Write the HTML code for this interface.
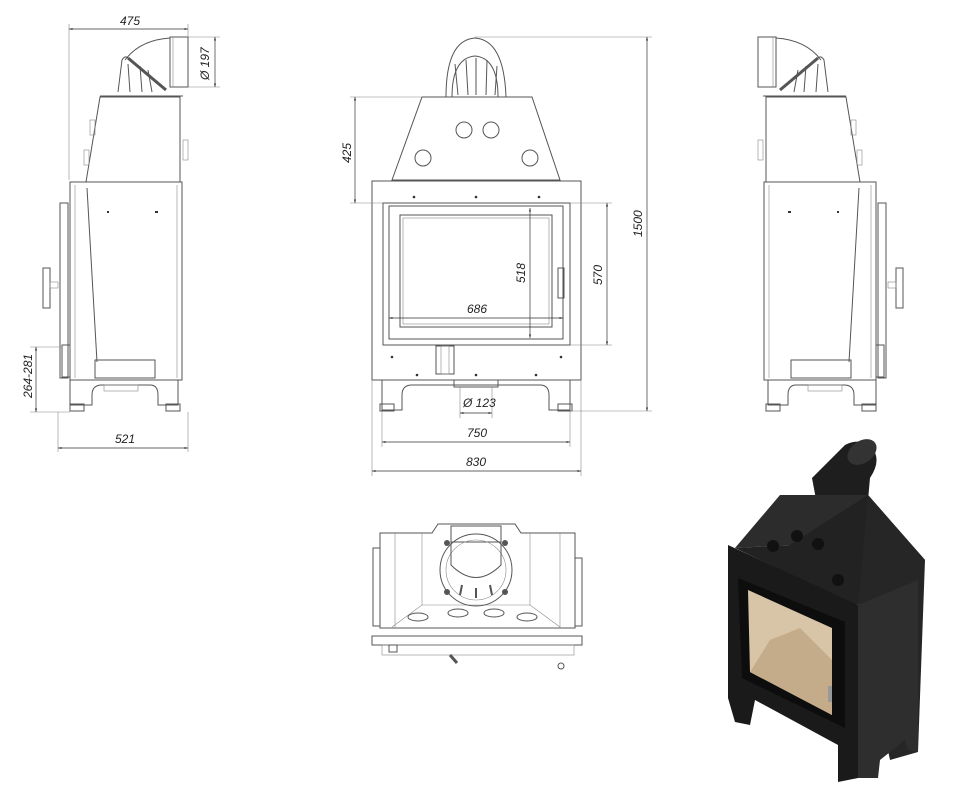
<!DOCTYPE html>
<html><head><meta charset="utf-8"><style>
html,body{margin:0;padding:0;background:#fff;}
svg{display:block;}
text{font-family:"Liberation Sans",sans-serif;font-style:italic;font-size:12px;fill:#222;}
.l{fill:none;stroke:#555;stroke-width:1;}
.t{fill:none;stroke:#888;stroke-width:0.6;}
.d{stroke:#333;stroke-width:0.7;fill:none;}
</style></head><body>
<svg width="966" height="804" viewBox="0 0 966 804" xmlns="http://www.w3.org/2000/svg">
<defs>
<marker id="a" viewBox="0 0 10 10" refX="10" refY="5" markerWidth="7" markerHeight="5" orient="auto-start-reverse"><path d="M0,2 L10,5 L0,8z" fill="#333"/></marker>
<g id="side">
  <rect x="170" y="37" width="18" height="50" class="l"/>
  <line x1="173" y1="37" x2="173" y2="87" class="t"/>
  <path d="M170,38 Q140,40 125,60" class="l"/>
  <path d="M118,92 L122,60 Q125,55 128,58 M130,92 L128,64 M142,92 L140,66 M152,92 L148,70" class="l"/>
  <path d="M128,58 L166,90" stroke="#555" stroke-width="3" fill="none"/>
  <path d="M100,97 L180,97 L180,182 L86,182 Z" class="l"/>
  <line x1="100" y1="96" x2="183" y2="96" class="l"/>
  <rect x="90" y="120" width="5" height="15" class="t"/>
  <rect x="84" y="150" width="5" height="15" class="t"/>
  <rect x="183" y="140" width="5" height="20" class="t"/>
  <rect x="70" y="182" width="112" height="198" class="l"/>
  <line x1="75" y1="185" x2="75" y2="378" class="t"/>
  <line x1="177" y1="185" x2="177" y2="378" class="t"/>
  <path d="M87,188 L97,362" class="l"/>
  <rect x="95" y="360" width="60" height="18" class="l"/>
  <rect x="60" y="203" width="8" height="175" class="l"/>
  <rect x="43" y="268" width="7" height="40" class="l"/>
  <rect x="50" y="282" width="8" height="6" class="t"/>
  <rect x="62" y="345" width="8" height="32" class="l"/>
  <line x1="107" y1="212" x2="109" y2="212" stroke="#333" stroke-width="2"/>
  <line x1="155" y1="212" x2="158" y2="212" stroke="#333" stroke-width="2"/>
  <path d="M70,380 L70,405 L92,405 L92,395 Q92,385 102,385 L150,385 Q158,385 158,395 L158,405 L178,405 L178,380" class="l"/>
  <rect x="104" y="385" width="34" height="6" class="t"/>
  <rect x="70" y="404" width="14" height="7" class="l"/>
  <rect x="166" y="404" width="14" height="7" class="l"/>
</g>
</defs>

<use href="#side"/>
<line x1="69" y1="24" x2="69" y2="180" class="t"/>
<line x1="188" y1="24" x2="188" y2="37" class="t"/>
<line class="d" x1="69" y1="29" x2="188" y2="29" marker-start="url(#a)" marker-end="url(#a)"/>
<text x="120" y="25">475</text>
<line x1="188" y1="37" x2="220" y2="37" class="t"/>
<line x1="188" y1="87" x2="220" y2="87" class="t"/>
<line class="d" x1="215" y1="37" x2="215" y2="87" marker-start="url(#a)" marker-end="url(#a)"/>
<text transform="translate(209,80) rotate(-90)">Ø 197</text>
<line x1="58" y1="412" x2="58" y2="452" class="t"/>
<line x1="188" y1="412" x2="188" y2="452" class="t"/>
<line class="d" x1="58" y1="448" x2="188" y2="448" marker-start="url(#a)" marker-end="url(#a)"/>
<text x="115" y="443">521</text>
<line x1="30" y1="347" x2="62" y2="347" class="t"/>
<line x1="30" y1="412" x2="70" y2="412" class="t"/>
<line class="d" x1="36" y1="347" x2="36" y2="412" marker-start="url(#a)" marker-end="url(#a)"/>
<text transform="translate(32,398) rotate(-90)">264-281</text>

<g transform="translate(946,0) scale(-1,1)"><use href="#side"/></g>

<path d="M446,97 Q446,40 475,38 Q504,40 506,97" class="l"/>
<path d="M452,97 Q452,58 475,56 Q498,58 498,97" class="l"/>
<path d="M458,95 L455,64 M468,95 L466,60 M476,95 L476,58 M486,95 L487,60 M495,95 L497,66" class="l"/>
<line x1="440" y1="97" x2="512" y2="97" class="l"/>
<path d="M422,97 L532,97 L560,180 L392,180 Z" class="l"/>
<circle cx="464" cy="130" r="8" class="l"/><circle cx="491" cy="130" r="8" class="l"/>
<circle cx="423" cy="158" r="8" class="l"/><circle cx="530" cy="158" r="8" class="l"/>
<rect x="372" y="181" width="209" height="199" class="l"/>
<rect x="383" y="203" width="187" height="142" class="l"/>
<rect x="389" y="206" width="174" height="133" class="l"/>
<rect x="400" y="215" width="152" height="112" class="l"/>
<rect x="403" y="218" width="146" height="106" class="t"/>
<rect x="558" y="268" width="6" height="30" class="l"/>
<line x1="383" y1="345" x2="570" y2="345" class="l"/>
<rect x="436" y="346" width="18" height="28" class="l"/>
<rect x="441" y="346" width="8" height="28" class="t"/>
<g fill="#333"><circle cx="414" cy="197" r="1.3"/><circle cx="476" cy="197" r="1.3"/><circle cx="539" cy="197" r="1.3"/>
<circle cx="392" cy="357" r="1.3"/><circle cx="561" cy="357" r="1.3"/><circle cx="417" cy="375" r="1.3"/><circle cx="476" cy="375" r="1.3"/><circle cx="536" cy="375" r="1.3"/></g>
<path d="M382,380 L382,410 L402,410 L402,395 Q402,385 412,385 L540,385 Q549,385 549,395 L549,410 L570,410 L570,380" class="l"/>
<rect x="454" y="380" width="44" height="7" class="l"/>
<rect x="380" y="404" width="14" height="7" class="l"/><rect x="558" y="404" width="14" height="7" class="l"/>
<line x1="475" y1="37" x2="652" y2="37" class="t"/>
<line x1="570" y1="411" x2="652" y2="411" class="t"/>
<line class="d" x1="647" y1="37" x2="647" y2="411" marker-start="url(#a)" marker-end="url(#a)"/>
<text transform="translate(642,237) rotate(-90)">1500</text>
<line x1="350" y1="97" x2="422" y2="97" class="t"/>
<line x1="350" y1="203" x2="383" y2="203" class="t"/>
<line class="d" x1="355" y1="97" x2="355" y2="203" marker-start="url(#a)" marker-end="url(#a)"/>
<text transform="translate(351,163) rotate(-90)">425</text>
<line x1="570" y1="203" x2="612" y2="203" class="t"/>
<line x1="570" y1="345" x2="612" y2="345" class="t"/>
<line class="d" x1="607" y1="203" x2="607" y2="345" marker-start="url(#a)" marker-end="url(#a)"/>
<text transform="translate(602,285) rotate(-90)">570</text>
<line class="d" x1="530" y1="208" x2="530" y2="338" marker-start="url(#a)" marker-end="url(#a)"/>
<text transform="translate(525,283) rotate(-90)">518</text>
<line class="d" x1="389" y1="318" x2="563" y2="318" marker-start="url(#a)" marker-end="url(#a)"/>
<text x="467" y="313">686</text>
<line x1="460" y1="387" x2="460" y2="418" class="t"/><line x1="492" y1="387" x2="492" y2="418" class="t"/>
<line class="d" x1="460" y1="413" x2="492" y2="413" marker-start="url(#a)" marker-end="url(#a)"/>
<text x="463" y="407">Ø 123</text>
<line x1="382" y1="411" x2="382" y2="447" class="t"/><line x1="570" y1="411" x2="570" y2="447" class="t"/>
<line class="d" x1="382" y1="442" x2="570" y2="442" marker-start="url(#a)" marker-end="url(#a)"/>
<text x="467" y="437">750</text>
<line x1="372" y1="380" x2="372" y2="476" class="t"/><line x1="581" y1="380" x2="581" y2="476" class="t"/>
<line class="d" x1="372" y1="471" x2="581" y2="471" marker-start="url(#a)" marker-end="url(#a)"/>
<text x="466" y="466">830</text>

<path d="M380,533 L432,533 L438,524 L515,524 L521,533 L575,533 L575,628 L380,628 Z" class="l"/>
<rect x="373" y="548" width="7" height="78" class="l"/><rect x="575" y="558" width="7" height="68" class="l"/>
<line x1="395" y1="533" x2="395" y2="628" class="t"/><line x1="560" y1="533" x2="560" y2="628" class="t"/>
<line x1="422" y1="533" x2="422" y2="605" class="t"/><line x1="530" y1="533" x2="530" y2="605" class="t"/>
<path d="M392,627 L422,605 L530,605 L560,627" class="t"/>
<rect x="451" y="526" width="50" height="16" class="l"/>
<circle cx="476" cy="570" r="36" class="l"/><circle cx="476" cy="570" r="30" class="t"/>
<path d="M451,540 L451,565 Q476,590 501,565 L501,540" class="l"/>
<path d="M462,585 L460,595 M476,588 L476,598 M490,585 L492,595" stroke="#555" stroke-width="2"/>
<g fill="#555"><circle cx="447" cy="543" r="3"/><circle cx="505" cy="543" r="3"/><circle cx="447" cy="592" r="3"/><circle cx="505" cy="592" r="3"/></g>
<g class="l"><ellipse cx="418" cy="617" rx="10" ry="4"/><ellipse cx="458" cy="613" rx="10" ry="4"/><ellipse cx="494" cy="613" rx="10" ry="4"/><ellipse cx="527" cy="617" rx="10" ry="4"/></g>
<rect x="372" y="636" width="210" height="9" class="l"/>
<rect x="382" y="645" width="192" height="10" class="t"/>
<rect x="389" y="645" width="8" height="7" class="l"/>
<path d="M450,655 L457,663" stroke="#555" stroke-width="3"/>
<circle cx="561" cy="666" r="3" class="l"/>

<!-- 3D RENDER -->
<path d="M812,478 L845,445 Q860,437 872,448 Q882,460 870,478 L868,500 L818,510 Z" fill="#1e1e1e"/>
<ellipse cx="862" cy="452" rx="16" ry="11" fill="#333" transform="rotate(-35 862 452)"/>
<path d="M780,495 L868,495 L925,560 L790,545 L735,548 Z" fill="#2c2c2c"/>
<path d="M735,548 L790,545 L868,495 L925,560 L910,600 L855,605 Z" fill="#222"/>
<path d="M868,495 L925,560 L918,752 L890,760 L858,608 Z" fill="#262626"/>
<path d="M728,545 L858,605 L858,778 L838,782 L838,745 L755,700 L750,725 L735,722 L728,698 Z" fill="#1a1a1a"/>
<path d="M858,605 L918,580 L918,752 L908,750 L905,740 L880,760 L878,778 L858,778 Z" fill="#2e2e2e"/>
<path d="M738,578 L845,622 L845,728 L742,678 Z" fill="#0d0d0d"/>
<path d="M748,590 L832,628 L832,715 L750,672 Z" fill="#d8c5a8"/>
<path d="M770,640 L800,628 L832,660 L832,715 L750,672 Z" fill="#c4ac8a"/>
<g fill="#111"><circle cx="773" cy="546" r="6"/><circle cx="797" cy="536" r="6"/><circle cx="818" cy="544" r="6"/><circle cx="838" cy="580" r="6"/></g>
<rect x="828" y="686" width="4" height="16" fill="#999"/>
</svg>
</body></html>
